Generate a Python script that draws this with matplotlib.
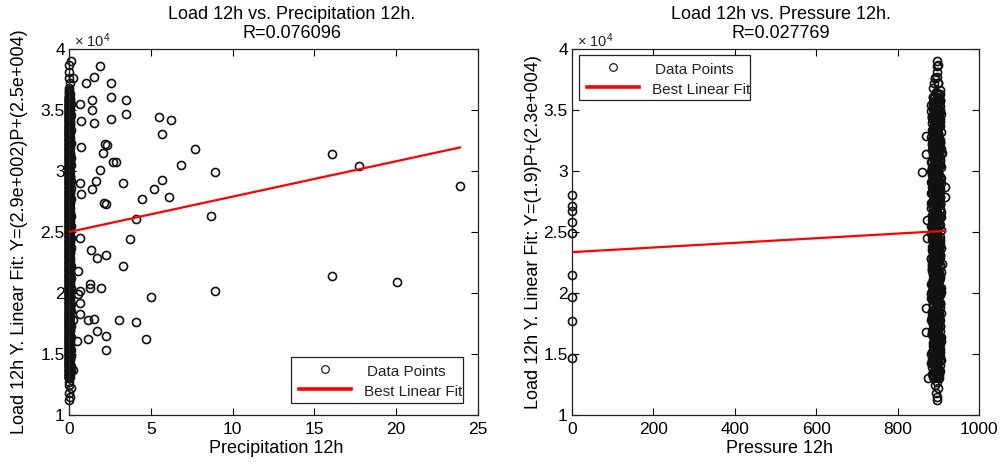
import matplotlib
matplotlib.use("Agg")
import matplotlib.pyplot as plt
import numpy as np
from matplotlib.lines import Line2D
from matplotlib.patches import Rectangle
from matplotlib.transforms import Bbox, TransformedBbox
from matplotlib.ticker import FuncFormatter, MultipleLocator

plt.rcParams['font.family'] = ['Liberation Sans', 'DejaVu Sans']
plt.rcParams['mathtext.fontset'] = 'custom'
plt.rcParams['mathtext.rm'] = 'Liberation Sans'
plt.rcParams['mathtext.it'] = 'Liberation Sans:italic'

# ---------------- data (load in units of 10^4) ----------------
# hours with no / very light precipitation
load_low = [
    1.12, 1.15, 1.18, 1.22, 1.25, 1.27,
    1.30, 1.31, 1.33, 1.34, 1.36, 1.37, 1.38,
    1.40, 1.41, 1.43, 1.44, 1.45, 1.47, 1.48, 1.49,
    1.50, 1.52, 1.53, 1.54, 1.56, 1.57, 1.59,
    1.60, 1.61, 1.62, 1.64, 1.65, 1.66, 1.68, 1.69,
    1.70, 1.72, 1.73, 1.75, 1.76, 1.77, 1.79,
    1.80, 1.81, 1.83, 1.84, 1.85, 1.87, 1.88, 1.89,
    1.91, 1.92, 1.93, 1.95, 1.96, 1.97, 1.99,
    2.00, 2.01, 2.03, 2.04, 2.06, 2.07, 2.08,
    2.10, 2.11, 2.12, 2.14, 2.15, 2.17, 2.18, 2.19,
    2.20, 2.22, 2.23, 2.24, 2.26, 2.27, 2.29,
    2.30, 2.31, 2.33, 2.34, 2.35, 2.37, 2.38, 2.39,
    2.41, 2.42, 2.43, 2.45, 2.46, 2.47, 2.49,
    2.50, 2.51, 2.52, 2.54, 2.55, 2.56, 2.58, 2.59,
    2.60, 2.62, 2.63, 2.64, 2.66, 2.67, 2.68,
    2.70, 2.71, 2.72, 2.74, 2.75, 2.77, 2.78, 2.79,
    2.80, 2.82, 2.83, 2.84, 2.86, 2.87, 2.89,
    2.90, 2.91, 2.92, 2.94, 2.95, 2.96, 2.98, 2.99,
    3.00, 3.02, 3.03, 3.05, 3.06, 3.07, 3.09,
    3.10, 3.11, 3.13, 3.14, 3.15, 3.17, 3.18, 3.19,
    3.21, 3.22, 3.23, 3.25, 3.26, 3.27, 3.29,
    3.30, 3.31, 3.32, 3.34, 3.35, 3.37, 3.38, 3.39,
    3.40, 3.42, 3.43, 3.44, 3.46, 3.47, 3.49,
    3.50, 3.51, 3.53, 3.54, 3.55, 3.57, 3.58,
    3.60, 3.61, 3.63, 3.65,
    3.68, 3.72, 3.76, 3.81, 3.87, 3.90,
]
precip_low = [
    0, 0.05, 0, 0.1, 0, 0.03,
    0, 0.08, 0, 0.04, 0.12, 0, 0.06,
    0.1, 0, 0.03, 0, 0.07, 0, 0.11, 0.02,
    0, 0.06, 0.12, 0, 0.04, 0, 0.09,
    0, 0.05, 0, 0.1, 0.02, 0, 0, 0.08,
    0.04, 0, 0.11, 0, 0.06, 0, 0.02,
    0, 0.09, 0.03, 0, 0.12, 0.05, 0, 0.07,
    0.1, 0, 0.04, 0.08, 0, 0, 0.02,
    0, 0.06, 0, 0.11, 0.03, 0, 0.08,
    0.05, 0, 0.1, 0, 0, 0.07, 0.02, 0,
    0, 0.12, 0.04, 0, 0.08, 0, 0.05,
    0.02, 0, 0.09, 0.06, 0, 0.11, 0, 0.04,
    0, 0.07, 0, 0.1, 0.03, 0, 0,
    0.08, 0, 0.05, 0, 0.12, 0.02, 0, 0.06,
    0, 0.04, 0.1, 0, 0.07, 0, 0.02,
    0.09, 0, 0.03, 0.06, 0, 0.11, 0, 0.05,
    0, 0.08, 0, 0.04, 0.1, 0, 0.06,
    0.02, 0, 0.12, 0, 0.05, 0.08, 0, 0,
    0.06, 0, 0.03, 0.1, 0, 0.07, 0,
    0, 0.11, 0.04, 0, 0.08, 0, 0.02, 0.09,
    0.05, 0, 0.1, 0, 0.03, 0.07, 0,
    0, 0.06, 0, 0.12, 0.02, 0, 0.09, 0.04,
    0.08, 0, 0.05, 0, 0.1, 0.03, 0,
    0, 0.07, 0.02, 0, 0.11, 0, 0.05,
    0.04, 0, 0.08, 0,
    0, 0.06, 0, 0.03, 0, 0.1,
]
pressure_low = [
    896, 898, 894, 899, 892, 897,
    874, 897, 901, 890, 905, 894, 899,
    893, 903, 887, 898, 907, 0, 895, 889,
    899, 885, 896, 904, 891, 901, 888,
    897, 907, 889, 900, 893, 884, 869, 895,
    900, 890, 905, 886, 896, 0, 892,
    902, 885, 894, 906, 890, 898, 871, 896,
    887, 903, 893, 898, 883, 0, 901,
    892, 907, 888, 896, 900, 883, 894,
    901, 886, 897, 905, 0, 890, 895, 899,
    885, 903, 893, 908, 889, 898, 881,
    896, 904, 887, 900, 892, 907, 884, 897,
    890, 901, 894, 873, 905, 893, 0,
    898, 888, 906, 894, 885, 902, 0, 896,
    872, 907, 891, 900, 895, 0, 903,
    887, 0, 897, 905, 890, 901, 893, 917,
    0, 883, 899, 894, 904, 916, 897,
    892, 902, 885, 907, 896, 890, 900, 861,
    898, 888, 906, 893, 901, 884, 896,
    904, 890, 899, 869, 908, 894, 901, 892,
    885, 897, 905, 889, 900, 894, 870,
    900, 892, 907, 887, 896, 903, 890, 898,
    894, 886, 903, 897, 889, 906, 893,
    900, 891, 905, 888, 896, 902, 894,
    898, 890, 903, 895,
    888, 900, 892, 896, 899, 897,
]

# further hours with zero precipitation
load_calm = [
    1.32, 1.35, 1.39, 1.30, 1.33, 1.36, 1.38, 1.31, 1.34, 1.37,
    1.42, 1.46, 1.40, 1.44, 1.49, 1.41, 1.47, 1.43, 1.45, 1.48,
    1.51, 1.55, 1.58, 1.50, 1.53, 1.57, 1.52, 1.59, 1.54, 1.56,
    1.63, 1.67, 1.60, 1.65, 1.69, 1.62, 1.66, 1.61, 1.68, 1.64,
    1.71, 1.74, 1.78, 1.70, 1.73, 1.77, 1.75, 1.72, 1.79, 1.76,
    1.82, 1.86, 1.80, 1.84, 1.89, 1.81, 1.87, 1.83, 1.85, 1.88,
    1.90, 1.94, 1.98, 1.91, 1.95, 1.97, 1.92, 1.99, 1.93, 1.96,
    2.02, 2.05, 2.09, 2.00, 2.04, 2.07, 2.01, 2.06, 2.08, 2.03,
    2.13, 2.16, 2.10, 2.19, 2.12, 2.15, 2.18, 2.11, 2.14, 2.17,
    2.21, 2.25, 2.28, 2.20, 2.23, 2.27, 2.24, 2.29, 2.22, 2.26,
    2.32, 2.36, 2.30, 2.34, 2.39, 2.31, 2.37, 2.33, 2.35, 2.38,
    2.40, 2.44, 2.48, 2.41, 2.45, 2.47, 2.42, 2.49, 2.43, 2.46,
    2.53, 2.57, 2.50, 2.55, 2.59, 2.52, 2.56, 2.51, 2.58, 2.54,
    2.61, 2.65, 2.69, 2.60, 2.63, 2.67, 2.64, 2.62, 2.68, 2.66,
    2.73, 2.76, 2.70, 2.79, 2.72, 2.75, 2.78, 2.71, 2.74, 2.77,
    2.81, 2.85, 2.88, 2.80, 2.83, 2.87, 2.84, 2.89, 2.82, 2.86,
    2.93, 2.97, 2.90, 2.95, 2.99, 2.92, 2.96, 2.91, 2.98, 2.94,
    3.01, 3.04, 3.08, 3.00, 3.03, 3.07, 3.05, 3.02, 3.09, 3.06,
    3.12, 3.16, 3.10, 3.14, 3.19, 3.11, 3.17, 3.13, 3.15, 3.18,
    3.20, 3.24, 3.28, 3.21, 3.25, 3.27, 3.22, 3.29, 3.23, 3.26,
    3.33, 3.36, 3.30, 3.39, 3.32, 3.35, 3.38, 3.31, 3.34, 3.37,
    3.41, 3.45, 3.48, 3.40, 3.43, 3.47, 3.44, 3.49, 3.42, 3.46,
    3.52, 3.56, 3.50, 3.54, 3.59, 3.51, 3.57, 3.53, 3.55, 3.58,
    3.62, 3.60, 3.64, 3.61, 3.66,
]
pressure_calm = [
    893, 889, 897, 901, 886, 895, 891, 899, 884, 896,
    898, 885, 892, 904, 888, 894, 900, 883, 896, 890,
    887, 902, 894, 881, 899, 891, 905, 889, 895, 893,
    901, 890, 896, 886, 903, 893, 884, 898, 891, 906,
    894, 899, 882, 892, 905, 888, 897, 900, 885, 893,
    893, 889, 897, 901, 886, 895, 891, 899, 884, 896,
    898, 885, 892, 904, 888, 894, 900, 883, 896, 890,
    887, 902, 894, 881, 899, 891, 905, 889, 895, 893,
    901, 890, 896, 886, 903, 893, 884, 898, 891, 906,
    894, 899, 882, 892, 905, 888, 897, 900, 885, 893,
    893, 889, 897, 901, 886, 895, 891, 899, 884, 896,
    898, 885, 892, 904, 888, 894, 900, 883, 896, 890,
    887, 902, 894, 881, 899, 891, 905, 889, 895, 893,
    901, 890, 896, 886, 903, 893, 884, 898, 891, 906,
    894, 899, 882, 892, 905, 888, 897, 900, 885, 893,
    893, 889, 897, 901, 886, 895, 891, 899, 884, 896,
    898, 885, 892, 904, 888, 894, 900, 883, 896, 890,
    887, 902, 894, 881, 899, 891, 905, 889, 895, 893,
    901, 890, 896, 886, 903, 893, 884, 898, 891, 906,
    894, 899, 882, 892, 905, 888, 897, 900, 885, 893,
    893, 889, 897, 901, 886, 895, 891, 899, 884, 896,
    898, 885, 892, 904, 888, 894, 900, 883, 896, 890,
    887, 902, 894, 881, 899, 891, 905, 889, 895, 893,
    901, 890, 896, 886, 903,
]

# more zero-precipitation hours (dense core of the pressure cloud)
load_calm2 = [
    1.305, 1.325, 1.345, 1.365, 1.385, 1.315, 1.355, 1.335, 1.395,
    1.405, 1.425, 1.445, 1.465, 1.485, 1.415, 1.455, 1.435, 1.495,
    1.505, 1.525, 1.545, 1.565, 1.585, 1.515, 1.555, 1.535, 1.595,
    1.605, 1.625, 1.645, 1.665, 1.685, 1.615, 1.655, 1.635, 1.695,
    1.705, 1.725, 1.745, 1.765, 1.785, 1.715, 1.755, 1.735, 1.795,
    1.805, 1.825, 1.845, 1.865, 1.885, 1.815, 1.855, 1.835, 1.895,
    1.905, 1.925, 1.945, 1.965, 1.985, 1.915, 1.955, 1.935, 1.995,
    2.005, 2.025, 2.045, 2.065, 2.085, 2.015, 2.055, 2.035, 2.095,
    2.105, 2.125, 2.145, 2.165, 2.185, 2.115, 2.155, 2.135, 2.195,
    2.205, 2.225, 2.245, 2.265, 2.285, 2.215, 2.255, 2.235, 2.295,
    2.305, 2.325, 2.345, 2.365, 2.385, 2.315, 2.355, 2.335, 2.395,
    2.405, 2.425, 2.445, 2.465, 2.485, 2.415, 2.455, 2.435, 2.495,
    2.505, 2.525, 2.545, 2.565, 2.585, 2.515, 2.555, 2.535, 2.595,
    2.605, 2.625, 2.645, 2.665, 2.685, 2.615, 2.655, 2.635, 2.695,
    2.705, 2.725, 2.745, 2.765, 2.785, 2.715, 2.755, 2.735, 2.795,
    2.805, 2.825, 2.845, 2.865, 2.885, 2.815, 2.855, 2.835, 2.895,
    2.905, 2.925, 2.945, 2.965, 2.985, 2.915, 2.955, 2.935, 2.995,
    3.005, 3.025, 3.045, 3.065, 3.085, 3.015, 3.055, 3.035, 3.095,
    3.105, 3.125, 3.145, 3.165, 3.185, 3.115, 3.155, 3.135, 3.195,
    3.205, 3.225, 3.245, 3.265, 3.285, 3.215, 3.255, 3.235, 3.295,
    3.305, 3.325, 3.345, 3.365, 3.385, 3.315, 3.355, 3.335, 3.395,
    3.405, 3.425, 3.445, 3.465, 3.485, 3.415, 3.455, 3.435, 3.495,
    3.505, 3.525, 3.545, 3.565, 3.585, 3.515, 3.555, 3.535, 3.595,
]
pressure_calm2 = [
    890, 897, 886, 902, 893, 888, 899, 895, 884,
    895, 887, 900, 891, 904, 889, 896, 885, 898,
    886, 899, 893, 888, 903, 897, 890, 894, 901,
    902, 891, 897, 885, 894, 899, 887, 903, 892,
    890, 897, 886, 902, 893, 888, 899, 895, 884,
    895, 887, 900, 891, 904, 889, 896, 885, 898,
    886, 899, 893, 888, 903, 897, 890, 894, 901,
    902, 891, 897, 885, 894, 899, 887, 903, 892,
    890, 897, 886, 902, 893, 888, 899, 895, 884,
    895, 887, 900, 891, 904, 889, 896, 885, 898,
    886, 899, 893, 888, 903, 897, 890, 894, 901,
    902, 891, 897, 885, 894, 899, 887, 903, 892,
    890, 897, 886, 902, 893, 888, 899, 895, 884,
    895, 887, 900, 891, 904, 889, 896, 885, 898,
    886, 899, 893, 888, 903, 897, 890, 894, 901,
    902, 891, 897, 885, 894, 899, 887, 903, 892,
    890, 897, 886, 902, 893, 888, 899, 895, 884,
    895, 887, 900, 891, 904, 889, 896, 885, 898,
    886, 899, 893, 888, 903, 897, 890, 894, 901,
    902, 891, 897, 885, 894, 899, 887, 903, 892,
    890, 897, 886, 902, 893, 888, 899, 895, 884,
    895, 887, 900, 891, 904, 889, 896, 885, 898,
    886, 899, 893, 888, 903, 897, 890, 894, 901,
]

# hours with noticeable precipitation
precip_wet = [
    1.90, 2.55, 1.05, 1.50, 0.25, 1.40, 2.55, 3.50, 3.50, 2.55,
    1.40, 0.65, 1.50, 0.72, 5.50, 6.25, 5.66, 2.22, 2.35, 2.10,
    0.74, 7.70, 2.66, 2.86, 6.85, 1.90, 8.95, 16.1, 17.7, 23.9,
    1.65, 0.70, 3.30, 5.68, 5.20, 6.10, 4.45, 1.40, 0.76, 2.12,
    2.28, 8.65, 4.10, 3.70, 0.70, 1.35, 2.28, 1.70, 3.28, 0.58,
    1.30, 1.30, 1.96, 0.70, 0.58, 5.00, 8.95, 16.05, 20.05, 0.68,
    0.70, 1.50, 1.16, 3.05, 4.10, 0.22, 1.70, 2.28, 4.70, 1.15,
    0.50, 2.28, 0.22,
]
load_wet = [
    3.86, 3.72, 3.72, 3.77, 3.76, 3.58, 3.61, 3.58, 3.47, 3.43,
    3.50, 3.55, 3.39, 3.41, 3.44, 3.42, 3.30, 3.22, 3.21, 3.15,
    3.20, 3.18, 3.07, 3.07, 3.05, 3.01, 2.99, 3.14, 3.04, 2.88,
    2.92, 2.90, 2.90, 2.93, 2.85, 2.79, 2.77, 2.85, 2.81, 2.74,
    2.73, 2.63, 2.61, 2.44, 2.45, 2.35, 2.31, 2.29, 2.22, 2.18,
    2.07, 2.04, 2.04, 2.02, 1.99, 1.97, 2.02, 2.14, 2.09, 1.92,
    1.83, 1.79, 1.78, 1.78, 1.76, 1.78, 1.69, 1.65, 1.62, 1.62,
    1.61, 1.53, 1.37,
]
pressure_wet = [
    896, 900, 890, 898, 893, 903, 887, 896, 901, 892,
    905, 889, 897, 894, 885, 902, 899, 890, 894, 907,
    888, 896, 900, 883, 904, 893, 891, 898, 888, 901,
    896, 906, 886, 897, 892, 903, 890, 900, 894, 882,
    905, 889, 898, 901, 894, 886, 903, 892, 896, 899,
    888, 907, 893, 885, 902, 897, 890, 900, 895, 905,
    888, 898, 893, 903, 891, 896, 884, 901, 892, 898,
    889, 900, 894,
]

# linear fits: slope, intercept (raw load units)
fit_precip = [290.0, 25000.0]
fit_pressure = [1.9, 23350.0]

titles = [("Load 12h vs. Precipitation 12h.", "R=0.076096"),
          ("Load 12h vs. Pressure 12h.", "R=0.027769")]
ylabels = ["Load 12h Y. Linear Fit: Y=(2.9e+002)P+(2.5e+004)",
           "Load 12h Y. Linear Fit: Y=(1.9)P+(2.3e+004)"]
xlabels = ["Precipitation 12h", "Pressure 12h"]
legend_labels = ["Data Points", "Best Linear Fit"]

# ---------------- assemble ----------------
load = np.array(load_low + load_calm + load_calm2 + load_wet)
precip = np.concatenate([np.array(precip_low, dtype=float),
                         np.zeros(len(load_calm) + len(load_calm2)),
                         np.array(precip_wet, dtype=float)])
pressure = np.array(pressure_low + pressure_calm + pressure_calm2 +
                    pressure_wet, dtype=float)

W, H = 1000, 465
fig = plt.figure(figsize=(W / 100, H / 100), dpi=100)

def px_axes(l, t, r, b):
    return fig.add_axes([l / W, 1 - b / H, (r - l) / W, (b - t) / H])

ax1 = px_axes(69, 49, 478, 415)
ax2 = px_axes(572, 49, 979, 415)
axes = [ax1, ax2]
boxes = [(69, 478), (572, 979)]

marker_kw = dict(linestyle='none', marker='o', ms=5.8, mfc='none',
                 mec='#111111', mew=1.2, clip_on=False, zorder=2)

def style(ax, xmax, xstep):
    ax.set_xlim(0, xmax)
    ax.set_ylim(1, 4)
    ax.xaxis.set_major_locator(MultipleLocator(xstep))
    ax.yaxis.set_major_locator(MultipleLocator(0.5))
    ax.yaxis.set_major_formatter(FuncFormatter(lambda v, p: f"{v:g}"))
    ax.tick_params(direction='in', top=True, right=True, length=5,
                   width=0.8, labelsize=12.5, colors='black')
    ax.tick_params(axis='y', pad=3)
    ax.tick_params(axis='x', pad=5)
    for s in ax.spines.values():
        s.set_linewidth(0.9)
        s.set_color('#222222')
    ax.text(0.012, 1.022, r'$\times\ 10^{4}$', transform=ax.transAxes,
            fontsize=10.5, ha='left', va='center', color='#222222')

# left panel
ax1.plot(precip, load, **marker_kw)
xs1 = np.array([0.0, precip.max()])
ax1.plot(xs1, (fit_precip[0] * xs1 + fit_precip[1]) / 1e4, color='#ff0000',
         lw=1.6, zorder=3)
style(ax1, 25, 5)

# right panel
ax2.plot(pressure, load, **marker_kw)
xs2 = np.array([0.0, pressure.max()])
ax2.plot(xs2, (fit_pressure[0] * xs2 + fit_pressure[1]) / 1e4, color='#ff0000',
         lw=1.6, zorder=3)
style(ax2, 1000, 200)

title_cx = [292, 781]
xlab_cx = [276, 779]
ylab_px = [28, 542]
for i, ax in enumerate(axes):
    l, r = boxes[i]
    w = r - l
    tx = (title_cx[i] - l) / w
    ax.text(tx, (415 - 15) / 366, titles[i][0], transform=ax.transAxes,
            ha='center', va='center', fontsize=13)
    ax.text(tx, (415 - 33) / 366, titles[i][1], transform=ax.transAxes,
            ha='center', va='center', fontsize=13)
    ax.set_xlabel(xlabels[i], fontsize=13)
    ax.xaxis.set_label_coords((xlab_cx[i] - l) / w, (415 - 440) / 366)
    ax.set_ylabel(ylabels[i], fontsize=13)
    ax.yaxis.set_label_coords((ylab_px[i] - l) / w, 0.5)

# ---------------- legends (MATLAB style box, text clipped at frame) -------
def fx(x):
    return x / W

def fy(y):
    return 1 - y / H

def draw_legend(box):
    x0, y0, x1, y1 = box
    rect = Rectangle((fx(x0), fy(y1)), fx(x1) - fx(x0), fy(y0) - fy(y1),
                     transform=fig.transFigure, facecolor='white',
                     edgecolor='#222222', linewidth=0.9, zorder=10)
    fig.add_artist(rect)
    clip = TransformedBbox(Bbox.from_extents(fx(x0), fy(y1), fx(x1), fy(y0)),
                           fig.transFigure)
    fig.add_artist(Line2D([fx(x0 + 34)], [fy(y0 + 12)],
                          transform=fig.transFigure, linestyle='none',
                          marker='o', ms=5.5, mfc='none', mec='#222222',
                          mew=0.9, zorder=11))
    fig.add_artist(Line2D([fx(x0 + 8), fx(x0 + 60)], [fy(y0 + 32)] * 2,
                          transform=fig.transFigure, color='#ff0000',
                          lw=2.6, zorder=11))
    t1 = fig.text(fx(x0 + 76), fy(y0 + 15), legend_labels[0],
                  fontsize=11, ha='left', va='center', color='#222222',
                  zorder=12)
    t2 = fig.text(fx(x0 + 73), fy(y0 + 35), legend_labels[1],
                  fontsize=11, ha='left', va='center', color='#222222',
                  zorder=12)
    for t in (t1, t2):
        t.set_clip_box(clip)
        t.set_clip_on(True)

draw_legend((291, 357, 463, 403))
draw_legend((579, 55, 750, 100))

fig.savefig("out.png", dpi=100, facecolor='white')
